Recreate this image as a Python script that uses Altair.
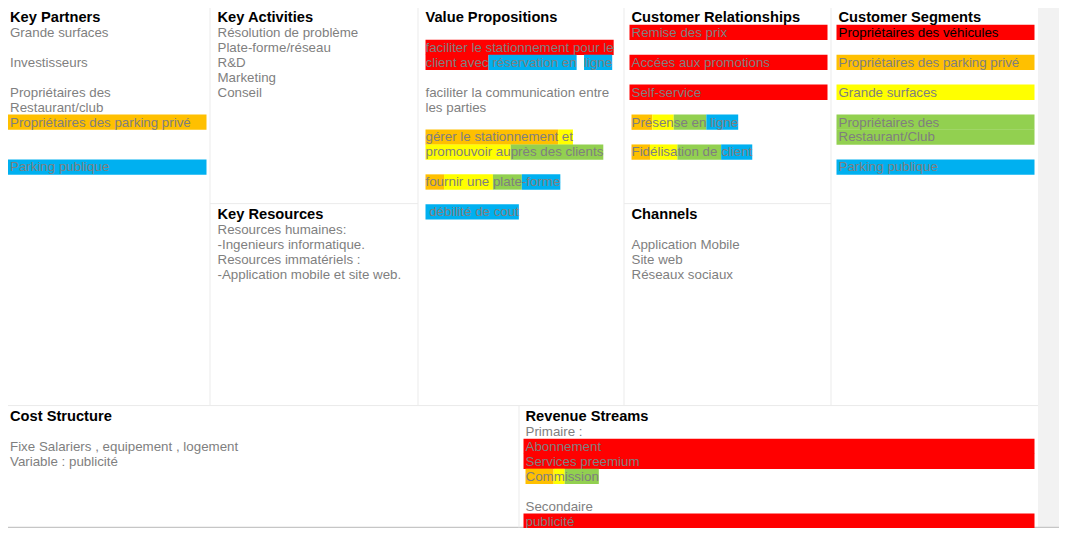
import altair as alt
import pandas as pd

RED, ORANGE, YELLOW, GREEN, BLUE = "#ff0000", "#ffc000", "#ffff00", "#92d050", "#00b0f0"
GREY = "#7f7f7f"

# a plain string is a plain line, (text, colour) is a line on a full-width band,
# (text, colour, text colour) overrides the text colour, and a list of
# (piece, colour) runs is a line with highlighted pieces
key_partners = [
    "Grande surfaces",
    "",
    "Investisseurs",
    "",
    "Propriétaires des",
    "Restaurant/club",
    ("Propriétaires des parking privé", ORANGE),
    "",
    "",
    ("Parking publique", BLUE),
]
key_activities = ["Résolution de problème", "Plate-forme/réseau", "R&D", "Marketing", "Conseil"]
key_resources = [
    "Resources humaines:",
    "-Ingenieurs informatique.",
    "Resources immatériels :",
    "-Application mobile et site web.",
]
value_props = [
    "",
    [("faciliter le stationnement pour le", RED)],
    [("client avec", RED), (" réservation en", BLUE), ("  ", None), ("ligne", BLUE)],
    "",
    "faciliter la communication entre",
    "les parties",
    "",
    [("gérer le stationnement", ORANGE), (" et", YELLOW)],
    [("promouvoir au", YELLOW), ("près des clients", GREEN)],
    "",
    [("fou", ORANGE), ("rnir une ", YELLOW), ("plate", GREEN), ("-forme", BLUE)],
    "",
    [(" débilité de cout", BLUE)],
]
customer_rel = [
    ("Remise des prix", RED),
    "",
    ("Accées aux promotions", RED),
    "",
    ("Self-service", RED),
    "",
    [("Pré", ORANGE), ("sen", YELLOW), ("se en", GREEN), (" ligne", BLUE)],
    "",
    [("Fid", ORANGE), ("élisa", YELLOW), ("tion de ", GREEN), ("client", BLUE)],
]
channels = ["", "Application Mobile", "Site web", "Réseaux sociaux"]
customer_seg = [
    ("Propriétaires des véhicules", RED, "#000000"),
    "",
    ("Propriétaires des parking privé", ORANGE),
    "",
    ("Grande surfaces", YELLOW),
    "",
    ("Propriétaires des", GREEN),
    ("Restaurant/Club", GREEN),
    "",
    ("Parking publique", BLUE),
]
cost_structure = ["", "Fixe Salariers , equipement , logement", "Variable : publicité"]
revenue = [
    "Primaire :",
    ("Abonnement", RED),
    ("Services preemium", RED),
    [("Com", ORANGE), ("m", YELLOW), ("ission", GREEN)],
    "",
    "Secondaire",
    ("publicité", RED),
]

# layout: title, left, right, top, lines
cells = [
    ("Key Partners", 3, 210, 0, key_partners),
    ("Key Activities", 210.5, 418, 0, key_activities),
    ("Key Resources", 210.5, 418, 202, key_resources),
    ("Value Propositions", 418.5, 624, 0, value_props),
    ("Customer Relationships", 624.5, 831, 0, customer_rel),
    ("Channels", 624.5, 831, 202, channels),
    ("Customer Segments", 831.5, 1038, 0, customer_seg),
    ("Cost Structure", 3, 519, 409, cost_structure),
    ("Revenue Streams", 518.5, 1038, 409, revenue),
]

FONT = 13.33
LINE = 15.33

# Arial / Liberation Sans advance widths (1/1000 em)
widths = dict(zip("abcdefghijklmnopqrstuvwxyz",
                  [556, 556, 500, 556, 556, 278, 556, 556, 222, 222, 500, 222, 833,
                   556, 556, 556, 556, 333, 500, 278, 556, 500, 722, 500, 500, 500]))
widths.update(dict(zip("ABCDEFGHIJKLMNOPQRSTUVWXYZ",
                       [667, 667, 722, 722, 667, 611, 778, 722, 278, 500, 667, 556, 833,
                        722, 778, 667, 778, 722, 667, 611, 722, 667, 944, 667, 667, 611])))
widths.update({" ": 278, "é": 556, "è": 556, "-": 333, "/": 278, ".": 278,
               ",": 278, ":": 278, "&": 667})


def text_width(s):
    return sum(widths.get(c, 556) for c in s) * FONT / 1000


rects, texts, titles = [], [], []
for title, left, right, top, lines in cells:
    ox = left + 7
    titles.append({"x": ox, "y": top + 15.5, "text": title})
    for i, line in enumerate(lines):
        base = top + 31 + i * LINE
        # a touch taller than the line pitch so stacked bands join up
        y0, y1 = base - 12.3, base + 3.4
        if isinstance(line, list):
            pos = ox
            for piece, col in line:
                w = text_width(piece)
                if col:
                    rects.append({"x": pos, "x2": pos + w, "y": y0, "y2": y1, "color": col})
                body = piece.lstrip()
                if body:
                    texts.append({"x": pos + text_width(piece[:len(piece) - len(body)]),
                                  "y": base, "text": body, "color": GREY})
                pos += w
        elif isinstance(line, tuple):
            rects.append({"x": ox - 2, "x2": right - 3.5, "y": y0, "y2": y1, "color": line[1]})
            texts.append({"x": ox, "y": base, "text": line[0],
                          "color": line[2] if len(line) > 2 else GREY})
        elif line:
            texts.append({"x": ox, "y": base, "text": line, "color": GREY})

# page chrome: grey margin on the right and the bottom border
chrome = pd.DataFrame([
    {"x": 1038, "x2": 1067, "y": 0, "y2": 536, "color": "#f2f2f2"},
    {"x": 0, "x2": 1067, "y": 533.3, "y2": 536, "color": "#c6c6c6"},
])
grid = pd.DataFrame({
    "x": [210, 418, 624, 831, 519, 210, 624, 3],
    "x2": [210, 418, 624, 831, 519, 418, 831, 1038],
    "y": [0, 0, 0, 0, 409, 202, 202, 409],
    "y2": [409, 409, 409, 409, 534, 202, 202, 409],
})

xs = alt.Scale(domain=[8, 1059], nice=False, zero=False)
ys = alt.Scale(domain=[1.5, 534.5], nice=False, zero=False, reverse=True)
X = alt.X("x:Q", scale=xs, axis=None)
Y = alt.Y("y:Q", scale=ys, axis=None)

chrome_layer = alt.Chart(chrome).mark_rect().encode(
    x=X, x2="x2:Q", y=Y, y2="y2:Q", color=alt.Color("color:N", scale=None))
grid_layer = alt.Chart(grid).mark_rule(color="#ebebeb", strokeWidth=1).encode(
    x=X, x2="x2:Q", y=Y, y2="y2:Q")
band_layer = alt.Chart(pd.DataFrame(rects)).mark_rect().encode(
    x=X, x2="x2:Q", y=Y, y2="y2:Q", color=alt.Color("color:N", scale=None))
text_layer = alt.Chart(pd.DataFrame(texts)).mark_text(
    align="left", baseline="alphabetic", font="Liberation Sans", fontSize=FONT
).encode(x=X, y=Y, text="text:N", color=alt.Color("color:N", scale=None))
title_layer = alt.Chart(pd.DataFrame(titles)).mark_text(
    align="left", baseline="alphabetic", font="Liberation Sans", fontSize=14.67,
    fontWeight="bold", color="#000000"
).encode(x=X, y=Y, text="text:N")

chart = alt.layer(chrome_layer, grid_layer, band_layer, text_layer, title_layer).properties(
    width=1051, height=520, padding=0, autosize=alt.AutoSizeParams(type="none"),
    background="#ffffff"
).configure_view(stroke=None)

chart.save("out.html", embed_options={"renderer": "svg", "actions": False})
